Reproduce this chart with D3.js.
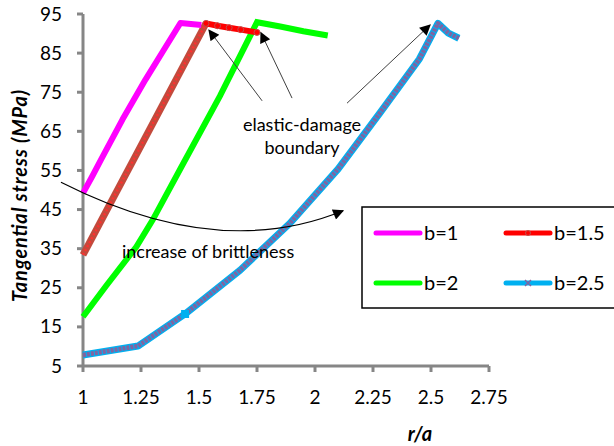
<!DOCTYPE html>
<html>
<head>
<meta charset="utf-8">
<script src="https://cdn.jsdelivr.net/npm/d3@7"></script>
<style>
  body { margin: 0; background: #fff; }
  svg { display: block; font-family: Lato, "Open Sans", sans-serif; }
</style>
</head>
<body>
<script>
// chart size
const width = 614;
const height = 446;

// data (r/a, tangential stress MPa)
const r_b1 = [1, 1.04, 1.08, 1.17, 1.27, 1.35, 1.42, 1.51];
const s_b1 = [49.2, 53.5, 58, 68, 78.3, 86, 92.7, 92.2];

const r_b15 = [1, 1.53, 1.58, 1.63, 1.68, 1.75];
const s_b15 = [33.4, 92.6, 92.0, 91.5, 91.0, 90.3];

const r_b2 = [1, 1.1, 1.23, 1.3, 1.425, 1.59, 1.75, 1.85, 1.95, 2.055];
const s_b2 = [17.6, 25.5, 35.5, 42.3, 56, 74, 92.9, 91.8, 90.6, 89.5];

const r_b25 = [1, 1.237, 1.44, 1.677, 1.892, 2.1, 2.28, 2.45, 2.53, 2.575, 2.62];
const s_b25 = [7.8, 10.1, 18.3, 29.5, 41.5, 55.4, 69.7, 83.5, 92.6, 90.1, 88.8];

const xTicks = [1, 1.25, 1.5, 1.75, 2, 2.25, 2.5, 2.75];
const yTicks = [5, 15, 25, 35, 45, 55, 65, 75, 85, 95];
const legendLabels = ["b=1", "b=1.5", "b=2", "b=2.5"];

const x = d3.scaleLinear().domain([1, 2.75]).range([83, 489]);
const y = d3.scaleLinear().domain([5, 95]).range([366, 14]);

const svg = d3.select("body").append("svg")
  .attr("width", width)
  .attr("height", height);

const defs = svg.append("defs");
defs.append("marker")
  .attr("id", "head")
  .attr("viewBox", "0 0 10 10")
  .attr("refX", 9).attr("refY", 5)
  .attr("markerWidth", 14).attr("markerHeight", 11)
  .attr("markerUnits", "userSpaceOnUse")
  .attr("orient", "auto")
  .append("path")
  .attr("d", "M0,0L10,5L0,10Z")
  .attr("fill", "#000");

const line = d3.line().x(d => x(d[0])).y(d => y(d[1]));
const zip = (a, b) => a.map((v, i) => [v, b[i]]);

// axes
const axisColor = "#868686";
svg.append("line")
  .attr("x1", x(1)).attr("x2", x(1))
  .attr("y1", y(95)).attr("y2", y(5))
  .attr("stroke", axisColor).attr("stroke-width", 3);
svg.append("line")
  .attr("x1", x(1)).attr("x2", x(2.75))
  .attr("y1", y(5)).attr("y2", y(5))
  .attr("stroke", axisColor).attr("stroke-width", 3);

svg.selectAll(".ytick").data(yTicks).enter().append("line")
  .attr("x1", x(1) - 6).attr("x2", x(1))
  .attr("y1", d => y(d)).attr("y2", d => y(d))
  .attr("stroke", axisColor).attr("stroke-width", 3);
svg.selectAll(".xtick").data(xTicks).enter().append("line")
  .attr("x1", d => x(d)).attr("x2", d => x(d))
  .attr("y1", y(5)).attr("y2", y(5) + 6)
  .attr("stroke", axisColor).attr("stroke-width", 3);

svg.selectAll(".ylab").data(yTicks).enter().append("text")
  .attr("x", 62).attr("y", d => y(d) + 6.5)
  .attr("text-anchor", "end")
  .attr("font-size", 19)
  .attr("fill", "#000")
  .text(d => d);
svg.selectAll(".xlab").data(xTicks).enter().append("text")
  .attr("x", d => x(d)).attr("y", 404)
  .attr("text-anchor", "middle")
  .attr("font-size", 19)
  .attr("fill", "#000")
  .text(d => d);

svg.append("text")
  .attr("transform", "translate(27,196) rotate(-90)")
  .attr("text-anchor", "middle")
  .attr("font-size", 20)
  .attr("font-weight", "bold")
  .attr("font-style", "italic")
  .attr("textLength", 212)
  .attr("lengthAdjust", "spacing")
  .text("Tangential stress (MPa)");
svg.append("text")
  .attr("x", 420).attr("y", 441)
  .attr("text-anchor", "middle")
  .attr("font-size", 20)
  .attr("font-weight", "bold")
  .attr("font-style", "italic")
  .text("r/a");

// series
// b=2.5 : cyan line with purple x markers
svg.append("path").datum(zip(r_b25, s_b25))
  .attr("d", line).attr("fill", "none")
  .attr("stroke", "#00b0f0").attr("stroke-width", 7)
  .attr("stroke-linejoin", "round");
svg.append("path").datum(zip(r_b25, s_b25))
  .attr("d", line).attr("fill", "none")
  .attr("stroke", "#8064a2").attr("stroke-width", 4.5)
  .attr("stroke-dasharray", "3,1")
  .attr("stroke-linejoin", "round");
svg.append("rect")
  .attr("x", x(r_b25[2]) - 4).attr("y", y(s_b25[2]) - 4)
  .attr("width", 8).attr("height", 8)
  .attr("fill", "#00b0f0");

// b=2 : green
svg.append("path").datum(zip(r_b2, s_b2))
  .attr("d", line).attr("fill", "none")
  .attr("stroke", "#00ff00").attr("stroke-width", 6);

// b=1.5 : red, rising part covered by dense circle markers
const red = zip(r_b15, s_b15);
svg.append("path").datum(red.slice(0, 2))
  .attr("d", line).attr("fill", "none")
  .attr("stroke", "#c24a3c").attr("stroke-width", 7);
svg.append("path").datum(red.slice(0, 2))
  .attr("d", line).attr("fill", "none")
  .attr("stroke", "#ff3030").attr("stroke-width", 2.5)
  .attr("stroke-dasharray", "2,2.5");
svg.append("path").datum(red.slice(1))
  .attr("d", line).attr("fill", "none")
  .attr("stroke", "#ff0000").attr("stroke-width", 6);
svg.selectAll(".redpt").data(red.slice(1)).enter().append("circle")
  .attr("cx", d => x(d[0])).attr("cy", d => y(d[1]))
  .attr("r", 3).attr("fill", "#ff0000")
  .attr("stroke", "#c0504d").attr("stroke-width", 1);

// b=1 : magenta
svg.append("path").datum(zip(r_b1, s_b1))
  .attr("d", line).attr("fill", "none")
  .attr("stroke", "#ff00ff").attr("stroke-width", 6)
  .attr("stroke-linejoin", "round");

// annotations (positions in data units)
const arrows = [
  [[1.772, 72.8], [1.543, 90.9]],
  [[1.901, 73.5], [1.767, 90.2]],
  [[2.138, 72.2], [2.496, 92.2]]
];
svg.selectAll(".arr").data(arrows).enter().append("line")
  .attr("x1", d => x(d[0][0])).attr("y1", d => y(d[0][1]))
  .attr("x2", d => x(d[1][0])).attr("y2", d => y(d[1][1]))
  .attr("stroke", "#404040").attr("stroke-width", 1)
  .attr("marker-end", "url(#head)");

const curve = [[0.905, 52.0], [1.582, 31.6], [2.121, 44.7]];
svg.append("path")
  .attr("d", `M${x(curve[0][0])},${y(curve[0][1])}Q${x(curve[1][0])},${y(curve[1][1])} ${x(curve[2][0])},${y(curve[2][1])}`)
  .attr("fill", "none")
  .attr("stroke", "#000").attr("stroke-width", 1.2)
  .attr("marker-end", "url(#head)");

svg.append("text")
  .attr("x", x(1.944)).attr("y", y(65.1))
  .attr("text-anchor", "middle").attr("font-size", 18)
  .text("elastic-damage");
svg.append("text")
  .attr("x", x(1.944)).attr("y", y(59.2))
  .attr("text-anchor", "middle").attr("font-size", 18)
  .text("boundary");
svg.append("text")
  .attr("x", x(1.168)).attr("y", y(32.6))
  .attr("font-size", 18)
  .text("increase of brittleness");

// legend
const legend = svg.append("g");
legend.append("rect")
  .attr("x", 362).attr("y", 207)
  .attr("width", 260).attr("height", 101)
  .attr("fill", "#fff").attr("stroke", "#000").attr("stroke-width", 1.5);
const legendColors = ["#ff00ff", "#ff0000", "#00ff00", "#00b0f0"];
const legendPos = [[376, 233], [506, 233], [376, 283], [506, 283]];
legendLabels.forEach((lab, i) => {
  const [lx, ly] = legendPos[i];
  legend.append("line")
    .attr("x1", lx).attr("x2", lx + 44)
    .attr("y1", ly).attr("y2", ly)
    .attr("stroke", legendColors[i]).attr("stroke-width", 5)
    .attr("stroke-linecap", "round");
  legend.append("text")
    .attr("x", lx + 48).attr("y", ly + 7)
    .attr("font-size", 20)
    .text(lab);
});
legend.append("circle").attr("cx", 528).attr("cy", 233).attr("r", 2.5)
  .attr("fill", "#ff0000").attr("stroke", "#c0504d");
legend.append("path").attr("d", "M525,280L531,286M531,280L525,286")
  .attr("stroke", "#8064a2").attr("stroke-width", 1.5);
</script>
</body>
</html>
